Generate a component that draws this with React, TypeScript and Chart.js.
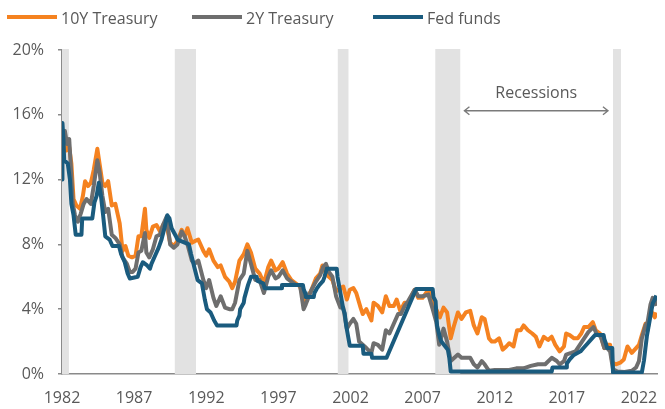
import React, { useEffect, useRef } from "react";
import { Chart, registerables } from "chart.js";

Chart.register(...registerables);

const FONT = "'Open Sans', 'DejaVu Sans', sans-serif";
const TEXT = "#595959";
const AXIS = "#8a8a8a";
const ORANGE = "#F58220";
const GREY = "#6E6E6E";
const BLUE = "#1A5B7E";

const xTicks = [1982, 1987, 1992, 1997, 2002, 2007, 2012, 2017, 2022];
const yTicks = [0, 4, 8, 12, 16, 20];

const recessionStart = [1982.0, 1989.82, 2001.12, 2007.88, 2020.2];
const recessionEnd = [1982.48, 1991.29, 2001.86, 2009.61, 2020.75];

const annotationText = "Recessions";
const arrowFrom = 2009.9;
const arrowTo = 2019.85;
const arrowLevel = 16.25;
const textLevel = 17.3;

const tenYear: [number, number][] = [
  [1982.0, 14.3], [1982.15, 14.8], [1982.3, 13.8], [1982.5, 14.0], [1982.65, 13.0], [1982.8, 10.8],
  [1983.0, 10.4], [1983.25, 10.2], [1983.45, 11.0], [1983.6, 11.9], [1983.8, 11.6], [1984.0, 11.8],
  [1984.2, 12.6], [1984.45, 13.9], [1984.6, 13.0], [1984.8, 11.8], [1985.0, 11.6], [1985.2, 11.9],
  [1985.45, 10.4], [1985.7, 10.5], [1986.0, 9.3], [1986.2, 7.6], [1986.4, 7.9], [1986.6, 7.3],
  [1986.85, 7.2], [1987.1, 7.3], [1987.3, 8.5], [1987.5, 8.5], [1987.75, 10.2], [1987.85, 8.9],
  [1988.05, 8.4], [1988.3, 9.1], [1988.55, 9.2], [1988.8, 8.8], [1989.0, 9.2], [1989.2, 9.4],
  [1989.5, 8.1], [1989.75, 7.9], [1990.0, 8.2], [1990.3, 8.9], [1990.5, 8.5], [1990.7, 9.0],
  [1991.0, 8.1], [1991.2, 8.2], [1991.45, 8.3], [1991.8, 7.6], [1992.0, 7.3], [1992.2, 7.7],
  [1992.5, 7.0], [1992.8, 6.6], [1993.0, 6.7], [1993.3, 6.0], [1993.6, 5.7], [1993.8, 5.3],
  [1994.0, 5.7], [1994.3, 7.0], [1994.6, 7.4], [1994.85, 8.0], [1995.1, 7.5], [1995.4, 6.5],
  [1995.7, 6.2], [1996.0, 5.6], [1996.3, 6.6], [1996.5, 7.0], [1996.8, 6.4], [1997.0, 6.5],
  [1997.3, 6.9], [1997.6, 6.2], [1997.9, 5.8], [1998.2, 5.6], [1998.5, 5.4], [1998.8, 4.5],
  [1999.0, 4.7], [1999.3, 5.2], [1999.6, 5.9], [1999.9, 6.2], [2000.05, 6.7], [2000.3, 6.2],
  [2000.5, 6.0], [2000.75, 5.8], [2001.0, 5.1], [2001.3, 5.3], [2001.5, 5.4], [2001.75, 4.6],
  [2001.95, 5.2], [2002.2, 5.3], [2002.4, 5.0], [2002.7, 4.1], [2002.85, 3.7], [2003.1, 4.0],
  [2003.45, 3.3], [2003.6, 4.4], [2003.9, 4.2], [2004.2, 3.8], [2004.45, 4.8], [2004.7, 4.2],
  [2005.0, 4.2], [2005.2, 4.6], [2005.45, 3.9], [2005.75, 4.4], [2006.0, 4.4], [2006.45, 5.2],
  [2006.7, 4.7], [2007.0, 4.7], [2007.4, 5.2], [2007.7, 4.5], [2007.95, 4.0], [2008.2, 3.5],
  [2008.45, 4.1], [2008.7, 3.8], [2008.95, 2.2], [2009.15, 2.9], [2009.45, 3.8], [2009.7, 3.4],
  [2010.0, 3.8], [2010.3, 3.9], [2010.55, 3.0], [2010.8, 2.5], [2011.1, 3.5], [2011.3, 3.4],
  [2011.6, 2.2], [2011.8, 2.0], [2012.0, 2.0], [2012.3, 2.2], [2012.55, 1.5], [2012.8, 1.7],
  [2013.0, 1.9], [2013.3, 1.7], [2013.55, 2.7], [2013.8, 2.7], [2014.0, 3.0], [2014.3, 2.7],
  [2014.6, 2.5], [2014.85, 2.3], [2015.1, 1.7], [2015.4, 2.3], [2015.7, 2.1], [2015.95, 2.3],
  [2016.2, 1.8], [2016.5, 1.4], [2016.8, 1.7], [2016.95, 2.5], [2017.2, 2.4], [2017.5, 2.2],
  [2017.75, 2.2], [2018.0, 2.5], [2018.2, 2.9], [2018.5, 2.9], [2018.8, 3.2], [2019.0, 2.7],
  [2019.3, 2.5], [2019.6, 1.6], [2019.8, 1.8], [2020.0, 1.8], [2020.15, 0.7], [2020.4, 0.6],
  [2020.7, 0.7], [2020.95, 0.9], [2021.2, 1.7], [2021.5, 1.3], [2021.8, 1.6], [2022.0, 1.8],
  [2022.2, 2.4], [2022.45, 3.1], [2022.6, 2.7], [2022.8, 4.0], [2022.95, 3.7], [2023.1, 3.5],
  [2023.2, 3.8],
];

const twoYear: [number, number][] = [
  [1982.0, 14.5], [1982.2, 15.0], [1982.35, 14.2], [1982.5, 14.5], [1982.6, 13.0], [1982.75, 10.5],
  [1982.9, 9.8], [1983.1, 9.4], [1983.3, 9.9], [1983.5, 10.5], [1983.7, 10.8], [1984.0, 10.5],
  [1984.2, 11.6], [1984.45, 13.2], [1984.6, 12.5], [1984.8, 11.0], [1985.0, 10.0], [1985.2, 10.2],
  [1985.45, 8.6], [1985.7, 8.4], [1986.0, 8.0], [1986.2, 7.2], [1986.5, 6.8], [1986.7, 6.3],
  [1986.9, 6.3], [1987.1, 6.5], [1987.3, 7.5], [1987.5, 7.6], [1987.75, 8.7], [1987.85, 7.5],
  [1988.05, 7.2], [1988.3, 7.7], [1988.55, 8.5], [1988.8, 8.6], [1989.0, 9.2], [1989.25, 9.7],
  [1989.5, 8.0], [1989.75, 7.8], [1990.0, 8.0], [1990.3, 8.8], [1990.5, 8.5], [1990.7, 8.0],
  [1991.0, 7.0], [1991.2, 6.8], [1991.45, 7.0], [1991.8, 5.8], [1992.0, 5.3], [1992.2, 5.8],
  [1992.5, 4.7], [1992.7, 4.2], [1993.0, 4.8], [1993.3, 4.1], [1993.6, 4.0], [1993.8, 4.0],
  [1994.0, 4.4], [1994.3, 5.8], [1994.6, 6.2], [1994.85, 7.6], [1995.1, 6.8], [1995.4, 5.8],
  [1995.7, 5.8], [1996.0, 5.0], [1996.3, 6.0], [1996.5, 6.4], [1996.8, 5.9], [1997.0, 6.0],
  [1997.3, 6.4], [1997.6, 5.9], [1997.9, 5.7], [1998.2, 5.5], [1998.5, 5.5], [1998.75, 4.0],
  [1998.9, 4.3], [1999.3, 5.2], [1999.6, 5.7], [1999.9, 6.1], [2000.1, 6.6], [2000.3, 6.8],
  [2000.5, 6.3], [2000.75, 6.0], [2001.0, 4.8], [2001.3, 4.1], [2001.5, 4.1], [2001.75, 2.8],
  [2001.95, 3.1], [2002.2, 3.4], [2002.4, 3.1], [2002.6, 2.0], [2002.85, 1.8], [2003.1, 1.6],
  [2003.45, 1.3], [2003.6, 1.9], [2003.9, 1.8], [2004.2, 1.5], [2004.45, 2.7], [2004.7, 2.5],
  [2005.0, 3.1], [2005.3, 3.7], [2005.5, 3.7], [2005.75, 4.2], [2006.0, 4.5], [2006.45, 5.2],
  [2006.7, 4.8], [2007.0, 4.8], [2007.4, 4.9], [2007.7, 4.0], [2007.95, 3.2], [2008.15, 1.8],
  [2008.45, 2.8], [2008.7, 2.0], [2008.95, 0.8], [2009.2, 1.0], [2009.45, 1.2], [2009.7, 1.0],
  [2010.0, 1.0], [2010.3, 1.0], [2010.55, 0.6], [2010.8, 0.4], [2011.1, 0.8], [2011.3, 0.6],
  [2011.6, 0.2], [2012.0, 0.25], [2012.5, 0.25], [2013.0, 0.25], [2013.5, 0.35], [2014.0, 0.35],
  [2014.5, 0.5], [2015.0, 0.6], [2015.5, 0.6], [2015.95, 1.0], [2016.3, 0.8], [2016.5, 0.6],
  [2016.8, 0.8], [2016.95, 1.2], [2017.3, 1.3], [2017.6, 1.4], [2017.9, 1.8], [2018.2, 2.2],
  [2018.5, 2.6], [2018.85, 2.9], [2019.05, 2.5], [2019.35, 2.3], [2019.6, 1.6], [2019.8, 1.6],
  [2020.0, 1.4], [2020.2, 0.3], [2020.5, 0.15], [2021.0, 0.13], [2021.5, 0.2], [2021.8, 0.4],
  [2022.0, 0.8], [2022.2, 2.2], [2022.45, 3.0], [2022.6, 3.2], [2022.8, 4.3], [2022.95, 4.7],
  [2023.1, 4.6], [2023.2, 4.2],
];

const fedFunds: [number, number][] = [
  [1982.0, 12.0], [1982.03, 15.5], [1982.1, 14.5], [1982.15, 13.2], [1982.4, 13.0], [1982.55, 12.0],
  [1982.65, 10.5], [1982.8, 9.8], [1982.95, 8.6], [1983.35, 8.6], [1983.4, 9.6], [1984.1, 9.6],
  [1984.25, 10.6], [1984.4, 11.0], [1984.55, 11.8], [1984.7, 11.0], [1984.85, 9.8], [1985.0, 8.5],
  [1985.3, 8.3], [1985.5, 7.9], [1985.95, 7.9], [1986.1, 7.4], [1986.35, 6.9], [1986.55, 6.2],
  [1986.7, 5.9], [1987.25, 6.0], [1987.45, 6.6], [1987.6, 6.9], [1987.9, 6.7], [1988.1, 6.5],
  [1988.2, 6.8], [1988.45, 7.3], [1988.7, 7.8], [1988.9, 8.3], [1989.1, 9.0], [1989.3, 9.8],
  [1989.45, 9.6], [1989.6, 9.0], [1989.9, 8.5], [1990.0, 8.3], [1990.8, 8.0], [1990.95, 7.4],
  [1991.2, 6.5], [1991.4, 5.8], [1991.7, 5.6], [1991.9, 4.6], [1992.05, 4.0], [1992.3, 3.8],
  [1992.55, 3.3], [1992.75, 3.0], [1994.1, 3.0], [1994.15, 3.3], [1994.3, 3.6], [1994.35, 4.0],
  [1994.6, 4.4], [1994.65, 4.7], [1994.9, 5.5], [1995.1, 6.0], [1995.5, 6.0], [1995.55, 5.75],
  [1995.95, 5.6], [1996.05, 5.3], [1997.2, 5.3], [1997.25, 5.5], [1998.7, 5.5], [1998.75, 5.25],
  [1998.85, 5.0], [1998.9, 4.75], [1999.45, 4.75], [1999.5, 5.0], [1999.65, 5.25], [1999.85, 5.5],
  [2000.1, 5.75], [2000.2, 6.0], [2000.35, 6.5], [2001.05, 6.5], [2001.1, 6.0], [2001.2, 5.5],
  [2001.3, 5.0], [2001.4, 4.5], [2001.5, 4.0], [2001.6, 3.75], [2001.7, 3.0], [2001.85, 2.25],
  [2001.95, 1.75], [2002.85, 1.75], [2002.9, 1.25], [2003.45, 1.25], [2003.5, 1.0], [2004.5, 1.0],
  [2006.55, 5.25], [2007.7, 5.25], [2007.75, 4.75], [2007.9, 4.5], [2008.0, 3.0], [2008.2, 2.25],
  [2008.3, 2.0], [2008.75, 1.5], [2008.85, 1.0], [2008.95, 0.15], [2015.95, 0.15], [2016.0, 0.4],
  [2016.95, 0.4], [2017.0, 0.65], [2017.2, 0.9], [2017.45, 1.15], [2017.95, 1.4], [2018.2, 1.65],
  [2018.45, 1.9], [2018.7, 2.15], [2018.95, 2.4], [2019.55, 2.4], [2019.6, 2.15], [2019.7, 1.9],
  [2019.8, 1.6], [2020.15, 1.6], [2020.2, 0.1], [2022.2, 0.1], [2022.25, 0.35], [2022.35, 0.85],
  [2022.45, 1.6], [2022.55, 2.35], [2022.7, 3.1], [2022.85, 3.85], [2022.95, 4.35], [2023.1, 4.6],
  [2023.2, 4.85],
];

const seriesNames = ["10Y Treasury", "2Y Treasury", "Fed funds"];
const seriesColors = [ORANGE, GREY, BLUE];

const toPoints = (arr: [number, number][]) => arr.map(([x, y]) => ({ x, y }));

const overlayPlugin = {
  id: "overlay",
  beforeDatasetsDraw(chart: any) {
    const { ctx, chartArea, scales } = chart;
    ctx.save();
    ctx.fillStyle = "#e2e2e2";
    recessionStart.forEach((s, i) => {
      const x1 = scales.x.getPixelForValue(s);
      const x2 = scales.x.getPixelForValue(recessionEnd[i]);
      ctx.fillRect(x1, chartArea.top - 1, x2 - x1, chartArea.bottom - chartArea.top + 1);
    });
    ctx.restore();
  },
  afterDatasetsDraw(chart: any) {
    const { ctx, scales } = chart;
    const x1 = scales.x.getPixelForValue(arrowFrom);
    const x2 = scales.x.getPixelForValue(arrowTo);
    const y = scales.y.getPixelForValue(arrowLevel);
    const ty = scales.y.getPixelForValue(textLevel);
    ctx.save();
    ctx.strokeStyle = "#7a7a7a";
    ctx.lineWidth = 1.4;
    ctx.beginPath();
    ctx.moveTo(x1, y);
    ctx.lineTo(x2, y);
    ctx.moveTo(x1 + 5, y - 4);
    ctx.lineTo(x1, y);
    ctx.lineTo(x1 + 5, y + 4);
    ctx.moveTo(x2 - 5, y - 4);
    ctx.lineTo(x2, y);
    ctx.lineTo(x2 - 5, y + 4);
    ctx.stroke();
    ctx.fillStyle = TEXT;
    ctx.font = `16px ${FONT}`;
    ctx.textAlign = "center";
    ctx.textBaseline = "middle";
    ctx.fillText(annotationText, (x1 + x2) / 2, ty);
    ctx.restore();
  },
};

export default function App() {
  const canvasRef = useRef<HTMLCanvasElement | null>(null);

  useEffect(() => {
    if (!canvasRef.current) return;
    const data = [tenYear, twoYear, fedFunds];
    const orders = [2, 1, 0];
    const chart = new Chart(canvasRef.current, {
      type: "line",
      data: {
        datasets: data.map((d, i) => ({
          label: seriesNames[i],
          data: toPoints(d),
          borderColor: seriesColors[i],
          backgroundColor: seriesColors[i],
          borderWidth: 4,
          pointRadius: 0,
          tension: 0,
          order: orders[i],
          borderJoinStyle: "round" as const,
        })),
      },
      options: {
        animation: false,
        responsive: true,
        maintainAspectRatio: false,
        layout: { padding: { top: 50, right: 8, left: 0, bottom: 0 } },
        plugins: { legend: { display: false }, tooltip: { enabled: false } },
        scales: {
          x: {
            type: "linear",
            min: 1982,
            max: 2023.25,
            afterBuildTicks: (s: any) => {
              s.ticks = xTicks.map((v) => ({ value: v }));
            },
            afterFit: (s: any) => {
              s.height = 35;
            },
            ticks: {
              autoSkip: false,
              maxRotation: 0,
              callback: (v: any) => String(v),
              color: TEXT,
              font: { family: FONT, size: 16 },
              padding: 2,
            },
            grid: { display: false, drawTicks: true, tickLength: 13 },
            border: { display: true, color: AXIS, width: 1.5 },
          },
          y: {
            min: 0,
            max: 20,
            afterBuildTicks: (s: any) => {
              s.ticks = yTicks.map((v) => ({ value: v }));
            },
            afterFit: (s: any) => {
              s.width = 62;
            },
            ticks: {
              callback: (v: any) => `${v}%`,
              color: TEXT,
              font: { family: FONT, size: 16 },
              padding: 14,
            },
            grid: {
              display: true,
              drawOnChartArea: false,
              drawTicks: true,
              tickLength: 4,
              color: AXIS,
              lineWidth: 1.5,
            },
            border: { display: true, color: AXIS, width: 1.5 },
          },
        },
      },
      plugins: [overlayPlugin],
    });
    return () => chart.destroy();
  }, []);

  const legendLefts = [7, 192, 373];

  return (
    <div style={{ position: "absolute", left: 0, top: 0, width: 665, height: 409, background: "#fff" }}>
      <canvas ref={canvasRef} />
      {seriesNames.map((n, i) => (
        <div
          key={n}
          style={{
            position: "absolute",
            left: legendLefts[i],
            top: 7,
            height: 22,
            display: "flex",
            alignItems: "center",
            fontFamily: FONT,
            fontSize: 16,
            color: TEXT,
            whiteSpace: "nowrap",
          }}
        >
          <span style={{ display: "inline-block", width: 50, height: 4, background: seriesColors[i], marginRight: 4, marginTop: -3 }} />
          <span>{n}</span>
        </div>
      ))}
    </div>
  );
}
